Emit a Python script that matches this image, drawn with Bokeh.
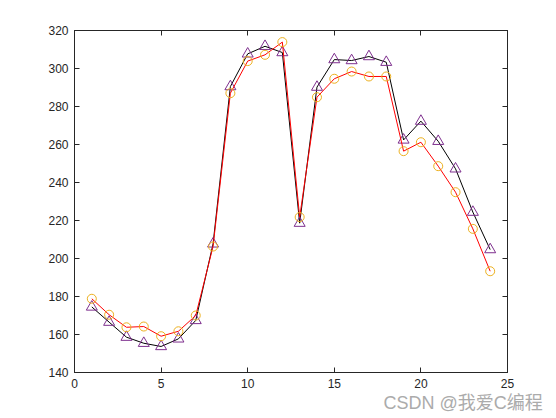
from bokeh.plotting import figure
from bokeh.models import LinearAxis, Range1d, FixedTicker, Title
from bokeh.embed import file_html
from bokeh.resources import INLINE

hours = list(range(1, 25))
series_black = [174.5, 166.5, 158.6, 155.4, 153.7, 157.7, 167.4, 207.7, 290.5, 307.7, 311.7, 308.4,
                218.6, 290.2, 304.7, 304.2, 306.3, 303.3, 262.4, 272.3, 261.7, 247.2, 224.4, 204.7]
series_red = [178.8, 170.4, 163.8, 164.2, 159.1, 161.7, 170.0, 206.3, 287.0, 303.9, 307.2, 313.9,
              221.8, 284.9, 294.6, 298.4, 295.8, 295.8, 256.5, 261.2, 248.6, 234.9, 215.6, 193.3]
x_ticks = [0, 5, 10, 15, 20, 25]
y_ticks = [140, 160, 180, 200, 220, 240, 260, 280, 300, 320]
watermark = "CSDN @我爱C编程"

p = figure(width=548, height=418, output_backend="svg", toolbar_location=None,
           x_range=Range1d(0, 25), y_range=Range1d(140, 320),
           x_axis_location=None, y_axis_location=None,
           min_border_left=74, min_border_right=41, min_border_top=30, min_border_bottom=46)
p.background_fill_color = "white"
p.border_fill_color = "white"
p.outline_line_color = "#262626"
p.xgrid.visible = False
p.ygrid.visible = False

def make_axis(ticks, show_labels):
    ax = LinearAxis(ticker=FixedTicker(ticks=ticks))
    ax.major_tick_in = 5
    ax.major_tick_out = 0
    ax.minor_tick_line_color = None
    ax.axis_line_color = "#262626"
    ax.major_tick_line_color = "#262626"
    ax.major_label_text_font = "Liberation Sans"
    ax.major_label_text_font_size = "12px"
    ax.major_label_text_color = "#262626"
    ax.major_label_standoff = 6
    if not show_labels:
        ax.major_label_text_color = None
        ax.major_label_text_font_size = "0px"
        ax.major_label_standoff = 0
    return ax

p.add_layout(make_axis(x_ticks, True), "below")
p.add_layout(make_axis(y_ticks, True), "left")
p.add_layout(make_axis(x_ticks, False), "above")
p.add_layout(make_axis(y_ticks, False), "right")

p.line(hours, series_black, line_color="black", line_width=1)
p.scatter(hours, series_black, marker="triangle", size=11, fill_color=None,
          line_color="#7E2F8E", line_width=1)
p.line(hours, series_red, line_color="red", line_width=1)
p.scatter(hours, series_red, marker="circle", size=9, fill_color=None,
          line_color="#EDB120", line_width=1)

wm = Title(text=watermark, align="left", offset=309, standoff=0,
           text_font="Liberation Sans, Noto Sans CJK SC", text_font_size="18px",
           text_font_style="normal", text_color="#ababab")
p.add_layout(wm, "below")

open("out.html", "w").write(file_html(p, INLINE))
